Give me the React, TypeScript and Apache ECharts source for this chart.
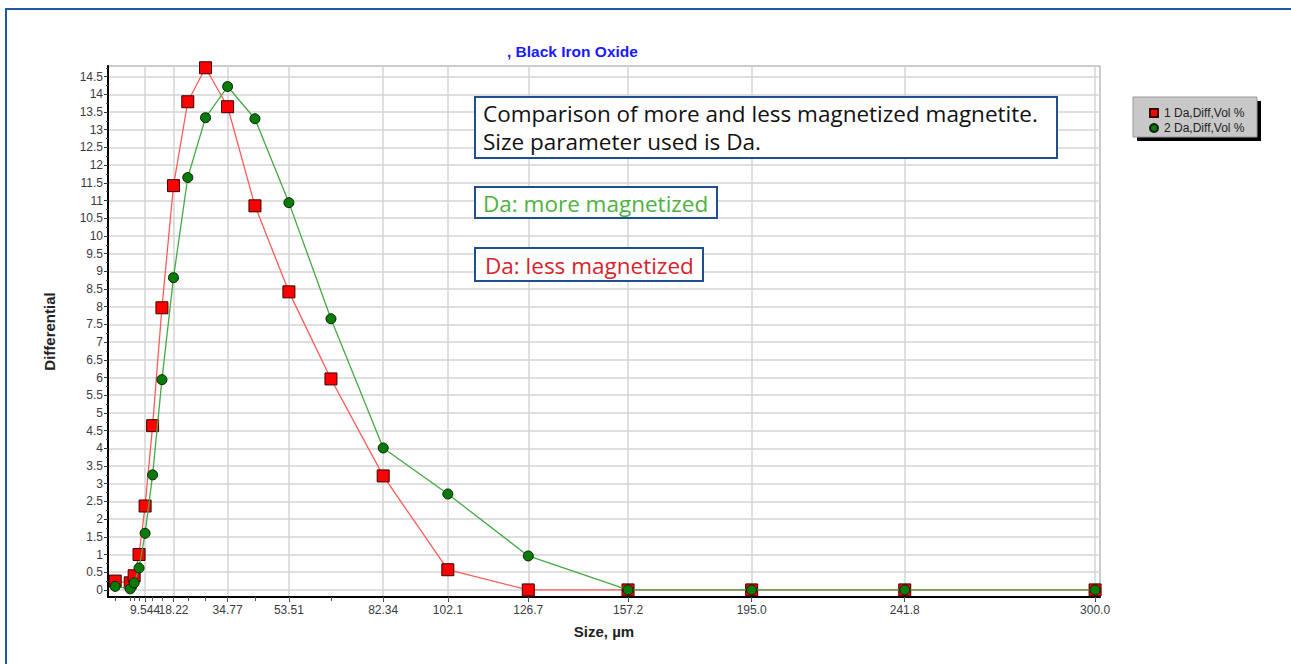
import React, { useEffect, useRef } from 'react';
import * as echarts from 'echarts';

// Size classes (µm)
const sizes = [0.4, 4.997, 6.2, 7.692, 9.544, 11.84, 14.69, 18.22, 22.59, 28.02, 34.77, 43.13, 53.51, 66.37, 82.34, 102.1, 126.7, 157.2, 195.0, 241.8, 300.0];
// 1 Da,Diff,Vol % (less magnetized, red)
const lessMagnetized = [0.25, 0.2, 0.4, 1.0, 2.37, 4.64, 7.97, 11.42, 13.79, 14.75, 13.65, 10.85, 8.42, 5.96, 3.22, 0.57, 0, 0, 0, 0, 0];
// 2 Da,Diff,Vol % (more magnetized, green)
const moreMagnetized = [0.1, 0.03, 0.2, 0.62, 1.6, 3.25, 5.94, 8.82, 11.65, 13.34, 14.22, 13.31, 10.94, 7.66, 4.01, 2.71, 0.96, 0, 0, 0, 0];

const xTickValues = [9.544, 18.22, 34.77, 53.51, 82.34, 102.1, 126.7, 157.2, 195.0, 241.8, 300.0];
const xTickText = ['9.544', '18.22', '34.77', '53.51', '82.34', '102.1', '126.7', '157.2', '195.0', '241.8', '300.0'];
const yTickValues = [0, 0.5, 1, 1.5, 2, 2.5, 3, 3.5, 4, 4.5, 5, 5.5, 6, 6.5, 7, 7.5, 8, 8.5, 9, 9.5, 10, 10.5, 11, 11.5, 12, 12.5, 13, 13.5, 14, 14.5];

const seriesNames = ['1 Da,Diff,Vol %', '2 Da,Diff,Vol %'];
const noteLines = ['Comparison of more and less magnetized magnetite.', 'Size parameter used is Da.'];

function tickText(v: number) {
  let best = '';
  xTickValues.forEach((t, i) => {
    if (Math.abs(t - v) < 1e-6) best = xTickText[i];
  });
  return best;
}

export default function App() {
  const ref = useRef<HTMLDivElement>(null);
  useEffect(() => {
    document.body.style.margin = '0';
    const chart = echarts.init(ref.current!, null, { renderer: 'svg' });
    const yMinor = yTickValues.map((v) => v + 0.25);
    // the two crowded labels (9.544 / 18.22) go on separate axes so both stay visible
    const mainLabels = xTickValues.filter((_, i) => i !== 1);
    const extraLabels = [xTickValues[1]];
    const labelFont = { fontFamily: 'Liberation Sans, Arial, sans-serif', fontSize: 12, color: '#3a3a44' };
    const nameFont = { fontFamily: 'Liberation Sans, Arial, sans-serif', fontWeight: 'bold', fontSize: 15, color: '#222' };
    const noteFont = { fontFamily: 'Open Sans, sans-serif', fontSize: 22.5 };
    const option: any = {
      animation: false,
      backgroundColor: '#ffffff',
      grid: { left: 108, right: 191, top: 66, bottom: 67, show: true, borderColor: '#999', borderWidth: 1 },
      title: {
        text: ', Black Iron Oxide',
        left: 502,
        top: 38,
        textStyle: { fontFamily: 'Liberation Sans Narrow, Liberation Sans, sans-serif', fontWeight: 'bold', fontSize: 15.5, color: '#1a1aff' },
      },
      legend: {
        left: 1143,
        top: 102,
        orient: 'vertical',
        itemWidth: 10,
        itemHeight: 10,
        itemGap: 3,
        data: seriesNames,
        textStyle: { fontFamily: 'Liberation Sans, Arial, sans-serif', fontSize: 12, color: '#222' },
      },
      xAxis: [
        {
          type: 'value',
          min: -1.8,
          max: 301.5,
          name: 'Size, µm',
          nameLocation: 'middle',
          nameGap: 27,
          nameTextStyle: nameFont,
          axisLine: { show: true, onZero: false, lineStyle: { color: '#000', width: 2 } },
          axisTick: { show: true, length: 5, customValues: xTickValues, lineStyle: { color: '#333' } },
          axisLabel: {
            ...labelFont,
            margin: 7,
            hideOverlap: false,
            customValues: mainLabels,
            formatter: tickText,
          },
          splitLine: { show: true, lineStyle: { color: '#d4d4d4', width: 1.5 } },
        },
        {
          type: 'value',
          position: 'bottom',
          min: -1.8,
          max: 301.5,
          axisLine: { show: false, onZero: false },
          axisLabel: { ...labelFont, margin: 7, hideOverlap: false, customValues: extraLabels, formatter: tickText },
          splitLine: { show: false },
          axisTick: { show: true, inside: false, length: 4, customValues: sizes, lineStyle: { color: '#555' } },
        },
      ],
      yAxis: [
        {
          type: 'value',
          min: -0.2,
          max: 14.8,
          name: 'Differential',
          nameLocation: 'middle',
          nameGap: 51,
          nameTextStyle: nameFont,
          axisLine: { show: true, onZero: false, lineStyle: { color: '#000', width: 2 } },
          axisTick: { show: true, length: 4, customValues: yTickValues, lineStyle: { color: '#333' } },
          axisLabel: { ...labelFont, margin: 5, hideOverlap: false, customValues: yTickValues },
          splitLine: { show: true, lineStyle: { color: '#d4d4d4', width: 1.5 } },
        },
        {
          type: 'value',
          position: 'left',
          min: -0.2,
          max: 14.8,
          axisLine: { show: false, onZero: false },
          axisLabel: { show: false },
          splitLine: { show: false },
          axisTick: { show: true, inside: false, length: 2, customValues: yMinor, lineStyle: { color: '#555' } },
        },
      ],
      graphic: [
        { type: 'rect', z: -10, shape: { x: 6, y: 9, width: 1320, height: 720 }, style: { fill: 'none', stroke: '#1f58a0', lineWidth: 2 } },
        { type: 'rect', z: 1, shape: { x: 1137, y: 101, width: 124, height: 40 }, style: { fill: '#000' } },
        { type: 'rect', z: 1, shape: { x: 1133, y: 97, width: 124, height: 40 }, style: { fill: '#c8c8c8', stroke: '#999', lineWidth: 1 } },
        { type: 'rect', z: 50, shape: { x: 475, y: 97, width: 582, height: 61 }, style: { fill: '#fff', stroke: '#1f4f8c', lineWidth: 2 } },
        {
          type: 'text', z: 51, x: 483, y: 113.5,
          style: { ...noteFont, text: noteLines[0], fill: '#111', verticalAlign: 'middle' },
        },
        {
          type: 'text', z: 51, x: 483, y: 141.5,
          style: { ...noteFont, text: noteLines[1], fill: '#111', verticalAlign: 'middle' },
        },
        { type: 'rect', z: 50, shape: { x: 475, y: 187, width: 242, height: 31 }, style: { fill: '#fff', stroke: '#1f4f8c', lineWidth: 2 } },
        {
          type: 'text', z: 51, x: 483, y: 203,
          style: { ...noteFont, text: 'Da: more magnetized', fill: '#4cb33c', verticalAlign: 'middle' },
        },
        { type: 'rect', z: 50, shape: { x: 475, y: 248, width: 228, height: 33 }, style: { fill: '#fff', stroke: '#1f4f8c', lineWidth: 2 } },
        {
          type: 'text', z: 51, x: 485, y: 265,
          style: { ...noteFont, text: 'Da: less magnetized', fill: '#d8232a', verticalAlign: 'middle' },
        },
      ],
      series: [
        {
          name: seriesNames[0],
          type: 'line',
          xAxisIndex: 0,
          yAxisIndex: 0,
          data: sizes.map((s, i) => [s, lessMagnetized[i]]),
          symbol: 'rect',
          symbolSize: 12,
          lineStyle: { color: '#ff5a5a', width: 1.3 },
          itemStyle: { color: '#ff0000', borderColor: '#3a0000', borderWidth: 1 },
          z: 3,
        },
        {
          name: seriesNames[1],
          type: 'line',
          xAxisIndex: 0,
          yAxisIndex: 0,
          data: sizes.map((s, i) => [s, moreMagnetized[i]]),
          symbol: 'circle',
          symbolSize: 10,
          lineStyle: { color: '#44aa44', width: 1.3 },
          itemStyle: { color: '#0a7a0a', borderColor: '#022202', borderWidth: 1 },
          z: 4,
        },
      ],
    };
    chart.setOption(option);
    return () => chart.dispose();
  }, []);
  return <div ref={ref} style={{ width: 1291, height: 664 }} />;
}
